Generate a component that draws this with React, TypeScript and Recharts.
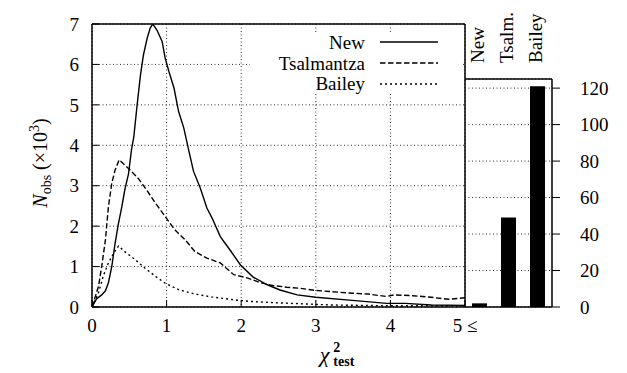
import {
  LineChart,
  Line,
  BarChart,
  Bar,
  XAxis,
  YAxis,
  CartesianGrid,
  ReferenceLine,
} from "recharts";

const FONT = '"Liberation Serif", serif';

// chi^2_test histogram curves (N_obs in units of 10^3)
const newChi = [0, 0.06, 0.13, 0.18, 0.22, 0.265, 0.31, 0.355, 0.4, 0.44, 0.49, 0.53, 0.56, 0.605, 0.65, 0.69, 0.74, 0.78, 0.815, 0.87, 0.94, 0.98, 1.03, 1.1, 1.16, 1.23, 1.3, 1.36, 1.45, 1.54, 1.61, 1.72, 1.85, 1.99, 2.16, 2.35, 2.52, 2.75, 3.0, 3.45, 3.95, 4.2, 4.55, 5.0];
const newN = [0, 0.2, 0.3, 0.4, 0.6, 1.0, 1.58, 2.07, 2.48, 2.9, 3.3, 3.9, 4.2, 5.0, 5.74, 6.24, 6.65, 6.9, 7.0, 6.85, 6.57, 6.16, 5.83, 5.41, 4.84, 4.43, 3.85, 3.36, 2.95, 2.45, 2.2, 1.74, 1.41, 1.04, 0.74, 0.55, 0.42, 0.3, 0.24, 0.17, 0.09, 0.09, 0.05, 0.04];

const tsalChi = [0, 0.087, 0.13, 0.18, 0.22, 0.265, 0.31, 0.364, 0.44, 0.51, 0.62, 0.73, 0.85, 0.98, 1.11, 1.25, 1.38, 1.54, 1.72, 1.9, 2.08, 2.26, 2.43, 2.61, 2.8, 3.0, 3.42, 3.7, 3.95, 4.05, 4.3, 4.55, 4.78, 5.0];
const tsalN = [0, 0.51, 1.0, 1.66, 2.48, 3.06, 3.39, 3.64, 3.51, 3.39, 3.18, 2.9, 2.57, 2.24, 1.91, 1.66, 1.37, 1.21, 1.09, 0.8, 0.72, 0.6, 0.53, 0.49, 0.46, 0.41, 0.35, 0.32, 0.26, 0.3, 0.28, 0.24, 0.19, 0.23];

const baileyChi = [0, 0.087, 0.15, 0.22, 0.29, 0.355, 0.44, 0.58, 0.71, 0.85, 0.98, 1.16, 1.38, 1.6, 1.85, 2.1, 2.4, 2.8, 3.2, 3.6, 4.0, 4.5, 5.0];
const baileyN = [0, 0.35, 0.76, 1.09, 1.33, 1.51, 1.37, 1.17, 0.96, 0.76, 0.59, 0.43, 0.32, 0.25, 0.19, 0.14, 0.11, 0.08, 0.05, 0.04, 0.03, 0.03, 0.03];

// counts with chi^2 >= 5 (units of 10^3)
const barLabels = ["New", "Tsalm.", "Bailey"];
const barValues = [2, 49, 121];

const xTicks = [0, 1, 2, 3, 4, 5];
const yTicks = [0, 1, 2, 3, 4, 5, 6, 7];
const barTicks = [0, 20, 40, 60, 80, 100, 120];

const toPoints = (xs: number[], ys: number[]) =>
  xs.map((x, i) => ({ x, y: ys[i] }));

const series = [
  { name: "New", data: toPoints(newChi, newN), dash: undefined },
  { name: "Tsalmantza", data: toPoints(tsalChi, tsalN), dash: "5.5 2.5" },
  { name: "Bailey", data: toPoints(baileyChi, baileyN), dash: "2 3" },
];

const barData = barLabels.map((name, i) => ({ name, value: barValues[i] }));

const FS = 19;
const tickStyle = { fill: "#000", fontSize: FS, fontFamily: FONT };
const gridStroke = "#333";
const gridDash = "1 2.5";

function RotatedTick({ x, y, payload }: any) {
  return (
    <text
      x={x}
      y={y}
      dy="0.22em"
      transform={`rotate(-90 ${x} ${y})`}
      textAnchor="start"
      fill="#000"
      fontSize={FS}
      fontFamily={FONT}
    >
      {payload.value}
    </text>
  );
}

function LegendBox() {
  return (
    <div
      style={{
        position: "absolute",
        left: 250,
        top: 32,
        width: 212,
        background: "#fff",
        fontFamily: FONT,
        fontSize: FS,
      }}
    >
      {series.map((s) => (
        <div
          key={s.name}
          style={{
            height: 20.7,
            display: "flex",
            alignItems: "center",
            justifyContent: "flex-end",
            gap: 15,
            paddingRight: 24,
          }}
        >
          <span style={{ lineHeight: 1 }}>{s.name}</span>
          <svg width={58} height={4}>
            <line
              x1={0}
              x2={58}
              y1={2}
              y2={2}
              stroke="#000"
              strokeWidth={1.4}
              strokeDasharray={s.dash}
            />
          </svg>
        </div>
      ))}
    </div>
  );
}

export default function App() {
  return (
    <div
      style={{
        position: "absolute",
        left: 0,
        top: 0,
        width: 627,
        height: 373,
        background: "#fff",
        fontFamily: FONT,
      }}
    >
      <div style={{ position: "absolute", left: 0, top: 0 }}>
        <LineChart
          width={627}
          height={373}
          margin={{ top: 24, right: 162, bottom: 36, left: 0 }}
        >
          <CartesianGrid stroke={gridStroke} strokeDasharray={gridDash} />
          <XAxis
            type="number"
            dataKey="x"
            domain={[0, 5]}
            ticks={xTicks}
            interval={0}
            allowDataOverflow
            height={30}
            tickSize={-7}
            tickMargin={19}
            tickFormatter={(v) => (v === 5 ? "5 \u2264" : String(v))}
            axisLine={{ stroke: "#000", strokeWidth: 1.5 }}
            tickLine={{ stroke: "#000" }}
            tick={tickStyle}
          />
          <YAxis
            type="number"
            domain={[0, 7]}
            ticks={yTicks}
            interval={0}
            allowDataOverflow
            width={92}
            tickSize={-7}
            tickMargin={20}
            axisLine={{ stroke: "#000", strokeWidth: 1.5 }}
            tickLine={{ stroke: "#000" }}
            tick={tickStyle}
          />
          {series.map((s) => (
            <Line
              key={s.name}
              data={s.data}
              dataKey="y"
              type="linear"
              stroke="#000"
              strokeWidth={1.4}
              strokeDasharray={s.dash}
              dot={false}
              isAnimationActive={false}
            />
          ))}
          <ReferenceLine y={7} stroke="#000" strokeWidth={1.5} />
          <ReferenceLine x={5} stroke="#000" strokeWidth={1.5} />
        </LineChart>
      </div>

      <LegendBox />

      <div style={{ position: "absolute", left: 0, top: 0 }}>
        <BarChart
          width={627}
          height={373}
          data={barData}
          margin={{ top: 0, right: 0, bottom: 66, left: 465 }}
          barSize={15}
        >
          <CartesianGrid
            vertical={false}
            stroke={gridStroke}
            strokeDasharray={gridDash}
          />
          <XAxis
            dataKey="name"
            orientation="top"
            height={79}
            interval={0}
            tickSize={0}
            tickMargin={16}
            axisLine={{ stroke: "#000", strokeWidth: 1.5 }}
            tick={<RotatedTick />}
          />
          <YAxis
            orientation="right"
            domain={[0, 125]}
            ticks={barTicks}
            interval={0}
            width={75}
            tickSize={8}
            tickMargin={20}
            axisLine={{ stroke: "#000", strokeWidth: 1.5 }}
            tickLine={{ stroke: "#000" }}
            tick={tickStyle}
          />
          <Bar dataKey="value" fill="#000" isAnimationActive={false} />
          <ReferenceLine y={0} stroke="#000" strokeWidth={1.5} />
        </BarChart>
      </div>

      <div
        style={{
          position: "absolute",
          left: 40,
          top: 163,
          transform: "translate(-50%, -50%) rotate(-90deg)",
          whiteSpace: "nowrap",
          fontSize: 20,
          lineHeight: 1,
        }}
      >
        <i>N</i>
        <span style={{ fontSize: 14, position: "relative", top: 4 }}>obs</span>
        <span> (×10</span>
        <span style={{ fontSize: 14, position: "relative", top: -8 }}>3</span>
        <span>)</span>
      </div>

      <div
        style={{
          position: "absolute",
          left: 337,
          top: 355,
          transform: "translate(-50%, -50%)",
          display: "flex",
          alignItems: "center",
          whiteSpace: "nowrap",
          lineHeight: 1,
        }}
      >
        <span style={{ fontSize: 22, fontStyle: "italic", paddingRight: 4 }}>χ</span>
        <span
          style={{
            display: "inline-flex",
            flexDirection: "column",
            alignItems: "flex-start",
            fontSize: 14,
            fontWeight: "bold",
            gap: 3,
          }}
        >
          <span style={{ lineHeight: 0.8 }}>2</span>
          <span style={{ lineHeight: 0.8 }}>test</span>
        </span>
      </div>
    </div>
  );
}
